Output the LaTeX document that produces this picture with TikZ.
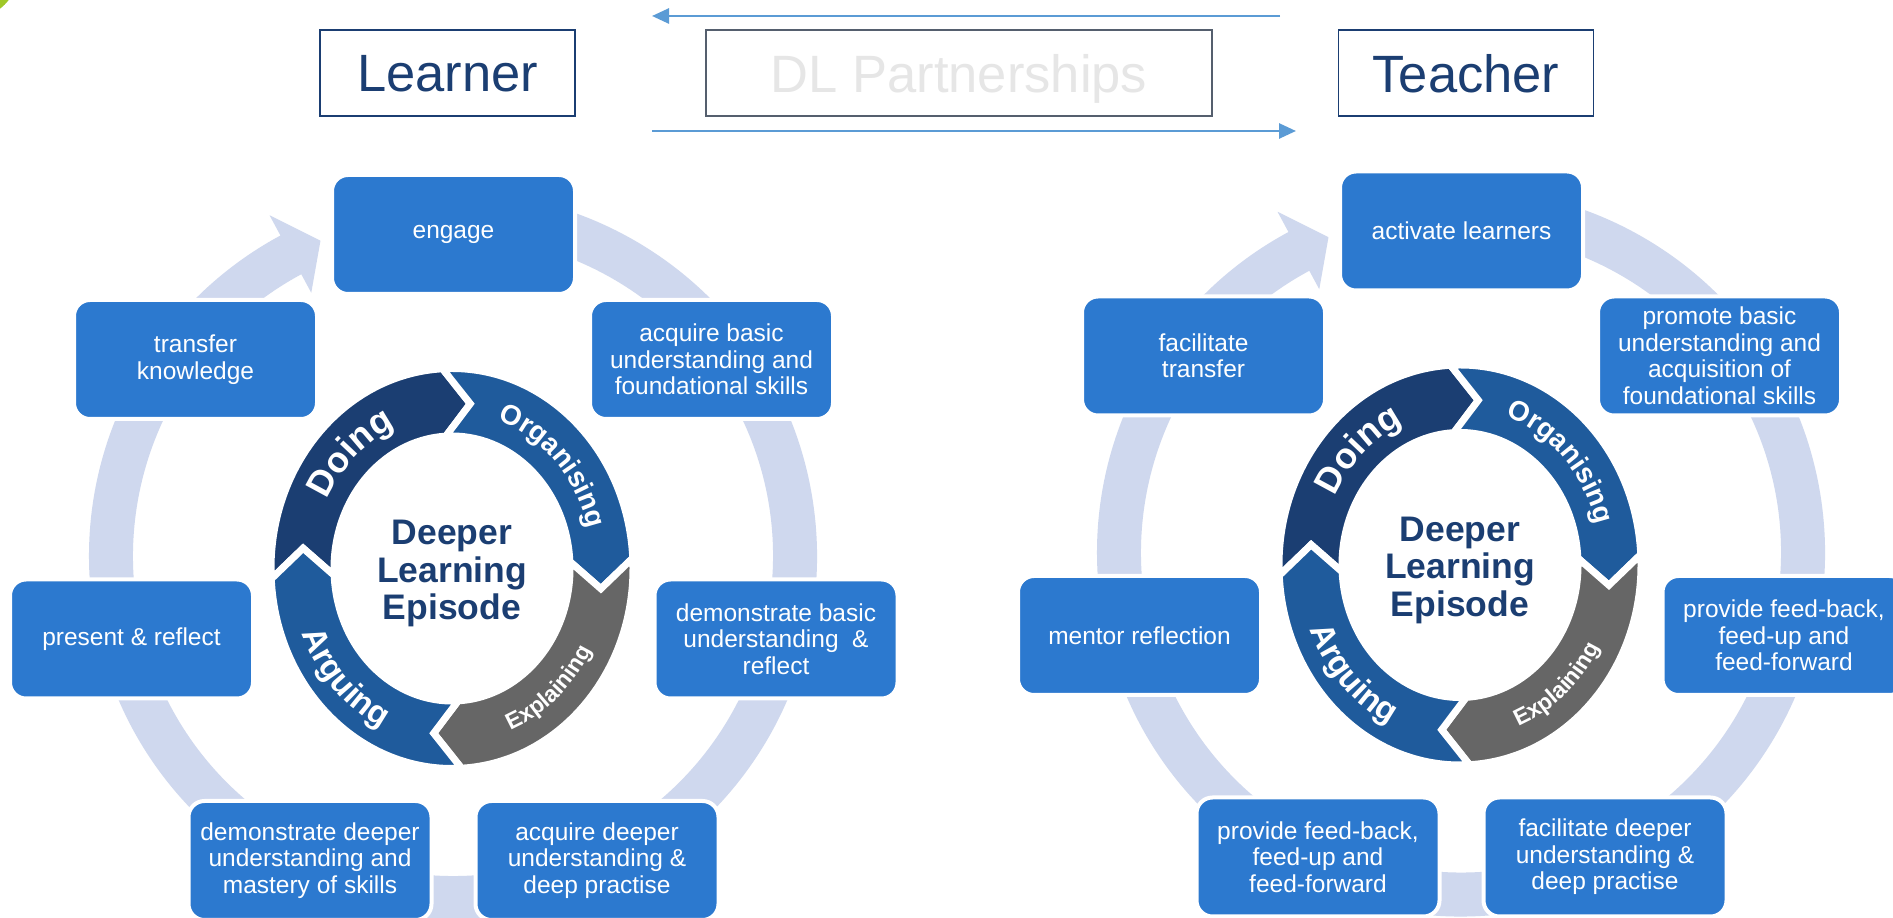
\documentclass[tikz,border=0pt]{standalone}
\usepackage{fontspec}
\setmainfont{Liberation Sans}
\usetikzlibrary{arrows.meta,decorations.text}
\definecolor{boxblue}{RGB}{44,121,207}
\definecolor{ringlav}{RGB}{207,216,238}
\definecolor{navy}{RGB}{27,62,114}
\definecolor{segblue}{RGB}{31,91,156}
\definecolor{seggray}{RGB}{102,102,102}
\definecolor{arrowblue}{RGB}{91,155,213}
\definecolor{dlgray}{RGB}{230,230,230}
\definecolor{dlborder}{RGB}{85,95,110}
\definecolor{leafgreen}{RGB}{160,200,40}

\newcommand{\boxfont}{\fontsize{24.5pt}{26.5pt}\selectfont}
\newcommand{\headfont}{\fontsize{52.5pt}{60pt}\selectfont}
\newcommand{\centerfont}{\fontsize{35.5pt}{37.5pt}\selectfont\bfseries}
\newcommand{\fDoing}{\fontsize{36pt}{36pt}\selectfont\bfseries\color{white}}
\newcommand{\fOrg}{\fontsize{28pt}{28pt}\selectfont\bfseries\color{white}}
\newcommand{\fExp}{\fontsize{23pt}{23pt}\selectfont\bfseries\color{white}}
\newcommand{\fArg}{\fontsize{33pt}{33pt}\selectfont\bfseries\color{white}}

\tikzset{
  dlbox/.style={rectangle, rounded corners=16pt, fill=boxblue, draw=white, line width=4pt,
    minimum width=243pt, minimum height=119pt, text=white, align=center, font=\boxfont, inner sep=0pt},
  headbox/.style={rectangle, minimum width=255pt, minimum height=86pt, line width=1.6pt,
    inner sep=0pt, text depth=0pt, font=\headfont},
  centertext/.style={align=center, font=\centerfont, text=navy, inner sep=0pt},
  flowarrow/.style={arrowblue, line width=2.6pt, -{Triangle[length=17pt,width=15pt]}}
}

% one chevron segment of the inner cycle: colour, start angle, end angle (clockwise)
\newcommand{\cycseg}[3]{%
  \filldraw[fill=#1, draw=white, line width=7pt, line join=miter]
    (#2:181pt and 200pt) arc[start angle=#2, end angle=#3, x radius=181pt, y radius=200pt]
    -- ({#3-10}:150pt and 166pt)
    -- (#3:118pt and 132.5pt) arc[start angle=#3, end angle=#2, x radius=118pt, y radius=132.5pt]
    -- ({#2-10}:150pt and 166pt) -- cycle;}

\newcommand{\drawcycle}[1]{%
  \begin{scope}[shift={(453,362)}]
    \fill[ringlav] (100:364pt) arc[start angle=100, end angle=-241.7, radius=364pt]
      -- (-241.7:387pt) -- (-247.2:342pt) -- (-241.7:299pt) -- (-241.7:320pt)
      arc[start angle=-241.7, end angle=100, radius=320pt] -- cycle;
  \end{scope}
  \begin{scope}[shift={(452,349.5)}]
    \cycseg{navy}{183}{93}
    \cycseg{segblue}{93}{3}
    \cycseg{seggray}{3}{-87}
    \cycseg{segblue}{-87}{-177}
    \path[decorate, decoration={text along path, text align=center, text={|\fDoing|Doing}}]
      (173:139pt and 155pt) arc[start angle=173, end angle=93, x radius=139pt, y radius=155pt];
    \path[decorate, decoration={text along path, text align=center, text={|\fOrg|Organising}}]
      (83.5:141pt and 157pt) arc[start angle=83.5, end angle=3.5, x radius=141pt, y radius=157pt];
    \path[decorate, decoration={text along path, text align=center, text={|\fExp|Explaining}}]
      (-89:158pt and 174pt) arc[start angle=-89, end angle=-9, x radius=158pt, y radius=174pt];
    \path[decorate, decoration={text along path, text align=center, text={|\fArg|Arguing}}]
      (-176.5:161pt and 177pt) arc[start angle=-176.5, end angle=-96.5, x radius=161pt, y radius=177pt];
    \node[centertext] (#1-center) at (0,-5) {Deeper\\Learning\\Episode};
  \end{scope}
}

\begin{document}
\begin{tikzpicture}[x=1pt, y=1pt]
\useasboundingbox (0,0) rectangle (1893,918);
\clip (0,0) rectangle (1893,918);
\fill[white] (0,0) rectangle (1893,918);
\fill[leafgreen] (-30,948) circle[radius=49pt];

% header
\node[headbox, draw=navy, text=navy] (learner) at (447.5,845) {Learner};
\node[headbox, draw=dlborder, text=dlgray, minimum width=506pt] (dlp) at (959,845) {DL Partnerships};
\node[headbox, draw=navy, text=navy] (teacher) at (1466,845) {Teacher};
\coordinate (topstart) at (1280,902);
\coordinate (topend) at (652,902);
\coordinate (botstart) at (652,787);
\coordinate (botend) at (1296,787);
\draw[flowarrow] (topstart) -- (topend);
\draw[flowarrow] (botstart) -- (botend);

% learner cycle
\drawcycle{L}
\node[dlbox] (L-engage) at (453.5,683.5) {engage};
\node[dlbox] (L-transfer) at (195.5,558.5) {transfer\\knowledge};
\node[dlbox] (L-acqbasic) at (711.5,558.5) {acquire basic\\understanding and\\foundational skills};
\node[dlbox] (L-present) at (131.5,279) {present \& reflect};
\node[dlbox] (L-demobasic) at (776,279) {demonstrate basic\\understanding\ \ \&\\reflect};
\node[dlbox] (L-demodeep) at (310,57.5) {demonstrate deeper\\understanding and\\mastery of skills};
\node[dlbox] (L-acqdeep) at (597,57.5) {acquire deeper\\understanding \&\\deep practise};

% teacher cycle
\begin{scope}[shift={(1008,3.5)}]
\drawcycle{R}
\node[dlbox] (R-activate) at (453.5,683.5) {activate learners};
\node[dlbox] (R-transfer) at (195.5,558.5) {facilitate\\transfer};
\node[dlbox] (R-promote) at (711.5,558.5) {promote basic\\understanding and\\acquisition of\\foundational skills};
\node[dlbox] (R-mentor) at (131.5,279) {mentor reflection};
\node[dlbox] (R-feedright) at (776,279) {provide feed-back,\\feed-up and\\feed-forward};
\node[dlbox] (R-feedbottom) at (310,57.5) {provide feed-back,\\feed-up and\\feed-forward};
\node[dlbox] (R-facdeep) at (597,57.5) {facilitate deeper\\understanding \&\\deep practise};
\end{scope}
\end{tikzpicture}
\end{document}
